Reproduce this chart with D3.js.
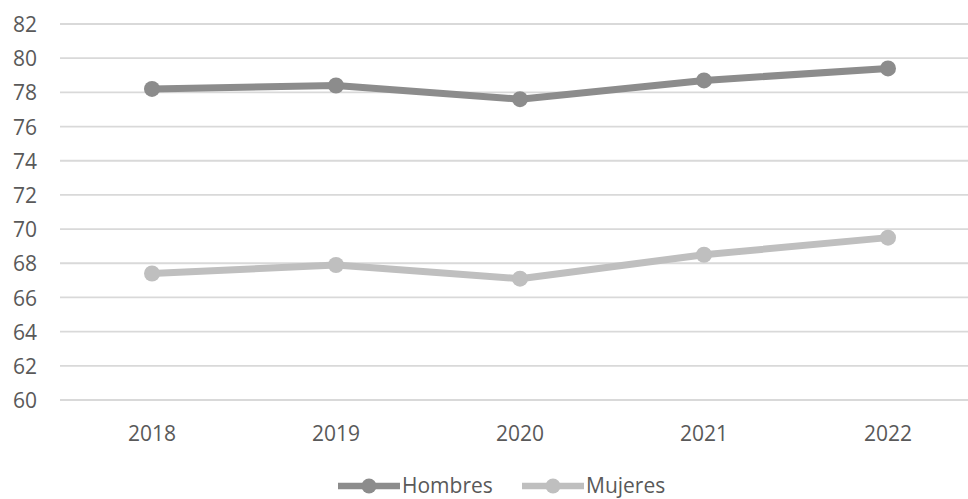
<!DOCTYPE html>
<html>
<head>
<meta charset="utf-8">
<script src="https://cdn.jsdelivr.net/npm/d3@7"></script>
<style>
  html, body { margin: 0; padding: 0; background: #fff; overflow: hidden; }
  svg { display: block; font-family: "Open Sans", Lato, sans-serif; }
</style>
</head>
<body>
<svg id="chart" width="968" height="499"></svg>
<script>
const years = ["2018", "2019", "2020", "2021", "2022"];
const hombres = [78.2, 78.4, 77.6, 78.7, 79.4];
const mujeres = [67.4, 67.9, 67.1, 68.5, 69.5];
const yTicks = [60, 62, 64, 66, 68, 70, 72, 74, 76, 78, 80, 82];
const seriesNames = ["Hombres", "Mujeres"];
const seriesColors = ["#8c8c8c", "#bfbfbf"];

const svg = d3.select("#chart");
const textColor = "#595959";
const fontSize = 21;
const fontFamily = "'Open Sans', Lato, sans-serif";

const x = d3.scaleBand().domain(years).range([60, 980]);
const y = d3.scaleLinear().domain([60, 82]).range([400, 24]);

// horizontal gridlines
svg.append("g")
  .selectAll("line")
  .data(yTicks)
  .join("line")
  .attr("x1", 60).attr("x2", 980)
  .attr("y1", d => y(d)).attr("y2", d => y(d))
  .attr("stroke", "#d9d9d9").attr("stroke-width", 1.8);

// y axis labels
const yAxis = d3.axisLeft(y).tickValues(yTicks).tickSize(0).tickPadding(0);
const gy = svg.append("g").attr("transform", "translate(37,0)").call(yAxis);
gy.select(".domain").remove();
gy.selectAll("text").attr("fill", textColor).attr("font-size", fontSize)
  .attr("font-family", fontFamily).attr("dy", "0.36em");

// x axis labels
const xAxis = d3.axisBottom(x).tickSize(0).tickPadding(0);
const gx = svg.append("g").attr("transform", "translate(0,441)").call(xAxis);
gx.select(".domain").remove();
gx.selectAll("text").attr("fill", textColor).attr("font-size", fontSize)
  .attr("font-family", fontFamily).attr("y", 0).attr("dy", 0);

const cx = d => x(d) + x.bandwidth() / 2;
const series = [hombres, mujeres];
const line = d3.line().x((d, i) => cx(years[i])).y(d => y(d));

series.forEach((vals, si) => {
  const g = svg.append("g");
  g.append("path")
    .datum(vals)
    .attr("d", line)
    .attr("fill", "none")
    .attr("stroke", seriesColors[si])
    .attr("stroke-width", 7)
    .attr("stroke-linejoin", "round");
  g.selectAll("circle")
    .data(vals)
    .join("circle")
    .attr("cx", (d, i) => cx(years[i]))
    .attr("cy", d => y(d))
    .attr("r", 8)
    .attr("fill", seriesColors[si]);
});

// legend
const legendY = 486;
const legendItems = [
  { name: seriesNames[0], color: seriesColors[0], x0: 338 },
  { name: seriesNames[1], color: seriesColors[1], x0: 522 }
];
legendItems.forEach(it => {
  const g = svg.append("g");
  g.append("line")
    .attr("x1", it.x0).attr("x2", it.x0 + 62)
    .attr("y1", legendY).attr("y2", legendY)
    .attr("stroke", it.color).attr("stroke-width", 6.5);
  g.append("circle")
    .attr("cx", it.x0 + 31).attr("cy", legendY).attr("r", 7.5)
    .attr("fill", it.color);
  g.append("text")
    .attr("x", it.x0 + 64).attr("y", 493)
    .attr("fill", textColor).attr("font-size", fontSize)
    .attr("font-family", fontFamily)
    .text(it.name);
});
</script>
</body>
</html>
